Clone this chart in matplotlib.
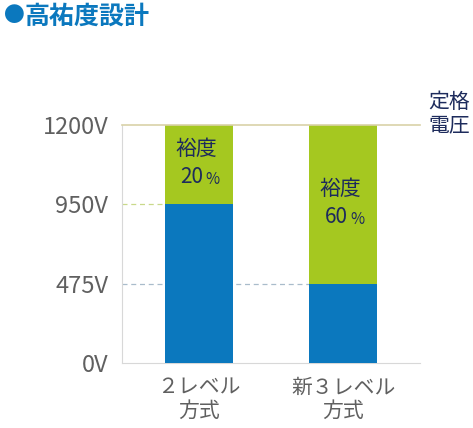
import matplotlib.pyplot as plt
import numpy as np

plt.rcParams['font.family'] = ['Noto Sans CJK JP', 'DejaVu Sans']

categories = ['２レベル\n方式', '新３レベル\n方式']
base_values = [950, 475]
total_values = [1200, 1200]
margin_labels = ['20', '60']
yticks = [0, 475, 950, 1200]
ytick_labels = ['0V', '475V', '950V', '1200V']

blue = '#0b78be'
green = '#a5c820'
navy = '#1d2b5c'
gray = '#606060'

# the reference spaces the ticks evenly, so use a piecewise scale
tick_pos = np.arange(len(yticks), dtype=float)


def fwd(v):
    return np.interp(v, yticks, tick_pos)


def inv(p):
    return np.interp(p, tick_pos, yticks)


fig = plt.figure(figsize=(4.73, 4.28), dpi=100)
ax = fig.add_axes([0.258, 0.152, 0.63, 0.556])
ax.set_yscale('function', functions=(fwd, inv))

xs = [0.258, 0.742]
w = 0.228
tops = [t - b for t, b in zip(total_values, base_values)]
ax.bar(xs, base_values, width=w, color=blue, zorder=3)
ax.bar(xs, tops, bottom=base_values, width=w, color=green, zorder=3)

ax.plot([0, xs[0]], [950, 950], ls=(0, (4, 3)), color='#c9d98a', lw=0.9, zorder=2)
ax.plot([0, xs[1]], [475, 475], ls=(0, (4, 3)), color='#a9bccb', lw=0.9, zorder=2)
ax.axhline(1200, color='#d9d2a8', lw=1.2, zorder=4, clip_on=False)

for x, b, t, lab in zip(xs, base_values, total_values, margin_labels):
    mid = inv((fwd(b) + fwd(t)) / 2)
    ax.annotate('裕度', (x, mid), xytext=(-2, 11), textcoords='offset points',
                ha='center', va='center', fontsize=15, color=navy, zorder=5)
    ax.annotate(lab, (x, mid), xytext=(-5, -9), textcoords='offset points',
                ha='center', va='center', fontsize=15, color=navy, zorder=5)
    ax.annotate('%', (x, mid), xytext=(5, -11), textcoords='offset points',
                ha='left', va='center', fontsize=11, color=navy, zorder=5)

ax.set_xlim(0, 1)
ax.set_ylim(0, 1200)
ax.set_yticks(yticks)
ax.set_yticklabels(ytick_labels, fontsize=17, color=gray)
ax.minorticks_off()
ax.set_xticks(xs)
ax.set_xticklabels(categories, fontsize=15, color=gray, linespacing=1.05)
ax.tick_params(length=0, pad=10)
for s in ['top', 'right']:
    ax.spines[s].set_visible(False)
for s in ['left', 'bottom']:
    ax.spines[s].set_color('#d8d8d8')

fig.text(0.905, 0.735, '定格\n電圧', fontsize=15, color=navy, ha='left', va='center',
         linespacing=1.05)
fig.text(0.008, 0.962, '●', fontsize=15, color=blue, va='center')
fig.text(0.052, 0.962, '高祐度設計', fontsize=18, color=blue, va='center', fontweight='bold')

fig.savefig('out.png', dpi=100)
